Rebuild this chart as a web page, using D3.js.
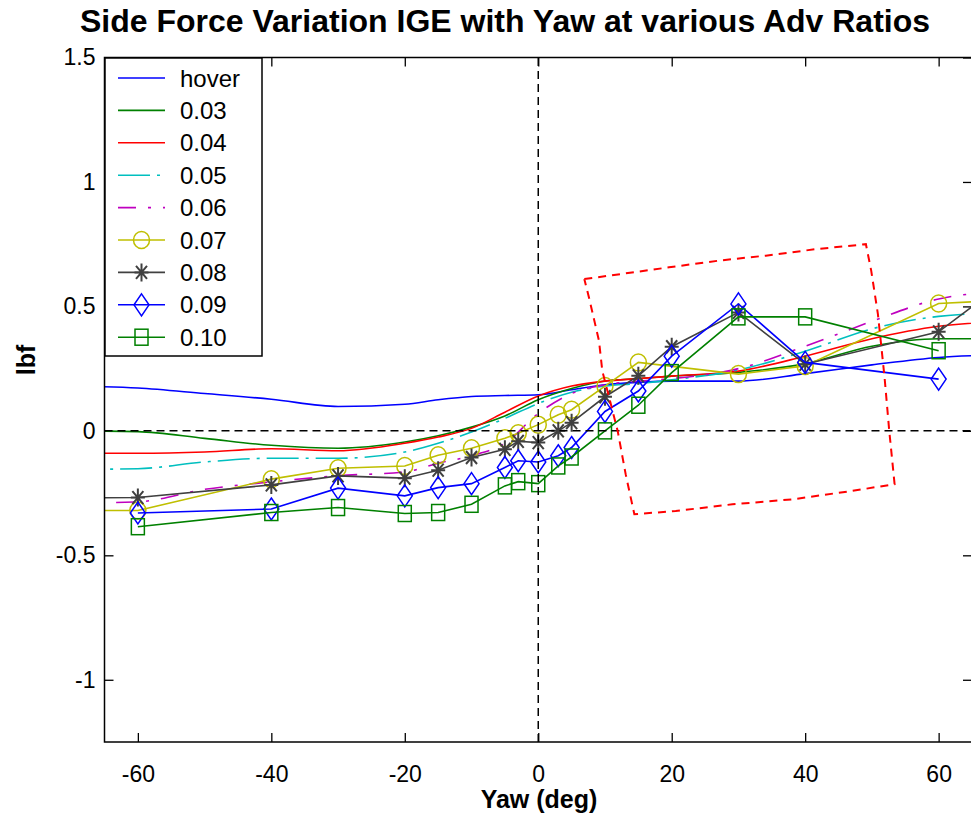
<!DOCTYPE html>
<html><head><meta charset="utf-8">
<script src="https://cdn.jsdelivr.net/npm/d3@7/dist/d3.min.js"></script>
<style>
html,body{margin:0;padding:0;background:#fff;}
svg{display:block;font-family:"Liberation Sans",Arial,Helvetica,sans-serif;}
</style></head>
<body>
<svg id="chart" width="971" height="818"></svg>
<script>
// ---------- DATA ----------
const xTicks = [-60, -40, -20, 0, 20, 40, 60];
const yTicks = [-1, -0.5, 0, 0.5, 1, 1.5];
const legendLabels = ["hover","0.03","0.04","0.05","0.06","0.07","0.08","0.09","0.10"];

// smooth (markerless) series
const yawSmooth = [-70,-60,-50,-40,-30,-20,-15,-10,-5,0,5,10,15,20,30,40,50,60,70];
const hover  = [0.18,0.172,0.15,0.127,0.098,0.107,0.125,0.138,0.142,0.145,0.165,0.185,0.195,0.2,0.2,0.23,0.265,0.295,0.305];
const adv003 = [0.0,-0.003,-0.03,-0.058,-0.07,-0.045,-0.02,0.015,0.06,0.125,0.17,0.2,0.21,0.22,0.235,0.27,0.34,0.37,0.37];
const adv004 = [-0.09,-0.09,-0.085,-0.072,-0.08,-0.05,-0.025,0.01,0.075,0.14,0.18,0.2,0.21,0.22,0.24,0.3,0.37,0.42,0.44];
const adv005 = [-0.155,-0.152,-0.125,-0.11,-0.11,-0.085,-0.05,-0.005,0.05,0.11,0.155,0.18,0.19,0.205,0.245,0.32,0.41,0.46,0.475];
const adv006 = [-0.29,-0.285,-0.235,-0.205,-0.18,-0.165,-0.13,-0.1,-0.05,0.07,0.15,0.185,0.2,0.21,0.25,0.34,0.44,0.53,0.56];

// marked series
const yaw007 = [-70,-60,-40,-30,-20,-15,-10,-5,-3,0,3,5,10,15,30,40,60,70];
const adv007 = [-0.32,-0.32,-0.194,-0.15,-0.141,-0.098,-0.07,-0.03,-0.01,0.025,0.065,0.085,0.18,0.275,0.228,0.261,0.512,0.525];
const yaw008 = [-70,-60,-40,-30,-20,-15,-10,-5,-3,0,3,5,10,15,20,30,40,60,70];
const adv008 = [-0.27,-0.268,-0.217,-0.181,-0.19,-0.158,-0.107,-0.074,-0.042,-0.047,0.0,0.033,0.137,0.221,0.338,0.476,0.268,0.398,0.6];
const yaw009 = [-60,-40,-30,-20,-15,-10,-5,-3,0,3,5,10,15,20,30,40,60];
const adv009 = [-0.33,-0.314,-0.23,-0.261,-0.228,-0.212,-0.147,-0.12,-0.125,-0.1,-0.067,0.078,0.16,0.3,0.51,0.275,0.208];
const yaw010 = [-60,-40,-30,-20,-15,-10,-5,-3,0,3,5,10,15,20,30,40,60];
const adv010 = [-0.385,-0.328,-0.308,-0.332,-0.328,-0.295,-0.221,-0.204,-0.212,-0.141,-0.105,0.0,0.103,0.234,0.458,0.458,0.322];

// red dashed annotation outline (data coords)
const boxYaw = [6.9,12.4,19.6,27.1,34.1,41.6,49.1,49.9,50.9,51.9,52.6,53.4,47.1,38.1,29.1,20.6,14.4,13.1,11.9,9.6,9.1,7.6,6.9];
const boxLbf = [0.61,0.63,0.657,0.684,0.704,0.73,0.75,0.643,0.469,0.214,0,-0.214,-0.241,-0.275,-0.295,-0.322,-0.335,-0.174,0,0.241,0.362,0.536,0.61];

// ---------- LAYOUT ----------
const L = 104.5, R = 972, T = 57.5, B = 742;
const x = d3.scaleLinear().domain([-65, 65]).range([L, R]);
const y = d3.scaleLinear().domain([-1.25, 1.5]).range([B, T]);
const svg = d3.select("#chart");

svg.append("defs").append("clipPath").attr("id","clip")
  .append("rect").attr("x",L).attr("y",T).attr("width",R-L).attr("height",B-T);

// title
svg.append("text").attr("x",505).attr("y",32).attr("text-anchor","middle")
  .attr("font-size",32).attr("font-weight","bold").text("Side Force Variation IGE with Yaw at various Adv Ratios");

// axis labels
svg.append("text").attr("x",539).attr("y",808).attr("text-anchor","middle")
  .attr("font-size",25).attr("font-weight","bold").text("Yaw (deg)");
svg.append("text").attr("transform","translate(35,360) rotate(-90)").attr("text-anchor","middle")
  .attr("font-size",25).attr("font-weight","bold").text("lbf");

// axes
const tickLen = 9;
const fmt = d => String(d);
const gx = svg.append("g").attr("transform",`translate(0,${B})`)
  .call(d3.axisBottom(x).tickValues(xTicks).tickSizeInner(-tickLen).tickSizeOuter(0).tickPadding(24).tickFormat(fmt));
const gxt = svg.append("g").attr("transform",`translate(0,${T})`)
  .call(d3.axisTop(x).tickValues(xTicks).tickSizeInner(-tickLen).tickSizeOuter(0).tickFormat(""));
const gy = svg.append("g").attr("transform",`translate(${L},0)`)
  .call(d3.axisLeft(y).tickValues(yTicks).tickSizeInner(-tickLen).tickSizeOuter(0).tickPadding(9).tickFormat(fmt));
const gyr = svg.append("g").attr("transform",`translate(${R},0)`)
  .call(d3.axisRight(y).tickValues(yTicks).tickSizeInner(-tickLen).tickSizeOuter(0).tickFormat(""));
[gx,gxt,gy,gyr].forEach(g => {
  g.select(".domain").remove();
  g.selectAll("line").attr("stroke","#000").attr("stroke-width",1.3);
  g.selectAll("text").attr("font-size",23).attr("fill","#000")
    .style("font-family","'Liberation Sans',Arial,sans-serif");
});

const plot = svg.append("g").attr("clip-path","url(#clip)");

// series definitions
const smoothLine = d3.line().x(d=>x(d[0])).y(d=>y(d[1])).curve(d3.curveMonotoneX);
const straightLine = d3.line().x(d=>x(d[0])).y(d=>y(d[1]));

const series = [
  {name:legendLabels[0], xs:yawSmooth, ys:hover,  color:"#0000ff", dash:null, marker:null, smooth:true},
  {name:legendLabels[1], xs:yawSmooth, ys:adv003, color:"#008000", dash:null, marker:null, smooth:true},
  {name:legendLabels[2], xs:yawSmooth, ys:adv004, color:"#ff0000", dash:null, marker:null, smooth:true},
  {name:legendLabels[3], xs:yawSmooth, ys:adv005, color:"#00bfbf", dash:"32,7,3,7", marker:null, smooth:true},
  {name:legendLabels[4], xs:yawSmooth, ys:adv006, color:"#bf00bf", dash:"18,12,3,12", marker:null, smooth:true},
  {name:legendLabels[5], xs:yaw007, ys:adv007, color:"#bfbf00", dash:null, marker:"circle", smooth:false},
  {name:legendLabels[6], xs:yaw008, ys:adv008, color:"#404040", dash:null, marker:"star", smooth:false},
  {name:legendLabels[7], xs:yaw009, ys:adv009, color:"#0000ff", dash:null, marker:"diamond", smooth:false},
  {name:legendLabels[8], xs:yaw010, ys:adv010, color:"#008000", dash:null, marker:"square", smooth:false}
];

function drawMarker(g, type, cx, cy, color){
  const s = g.append("g").attr("transform",`translate(${cx},${cy})`)
    .attr("fill","none").attr("stroke",color).attr("stroke-width",1.5);
  if(type==="circle"){
    s.append("ellipse").attr("rx",8).attr("ry",8.5);
  } else if(type==="star"){
    s.append("path").attr("d","M-7,0H7M0,-9V9M-5.5,-6.5L5.5,6.5M-5.5,6.5L5.5,-6.5").attr("stroke-width",2);
  } else if(type==="diamond"){
    s.append("path").attr("d","M0,-11L7.5,0L0,11L-7.5,0Z");
  } else if(type==="square"){
    s.append("rect").attr("x",-6.5).attr("y",-8).attr("width",13).attr("height",16);
  }
}

series.forEach(s => {
  const pts = s.xs.map((v,i)=>[v, s.ys[i]]);
  plot.append("path").datum(pts)
    .attr("d", s.smooth ? smoothLine : straightLine)
    .attr("fill","none").attr("stroke",s.color).attr("stroke-width",1.6)
    .attr("stroke-dasharray", s.dash);
  if(s.marker){
    pts.forEach(p => drawMarker(plot, s.marker, x(p[0]), y(p[1]), s.color));
  }
});

// zero reference lines
plot.append("line").attr("x1",x(-65)).attr("x2",x(65)).attr("y1",y(0)).attr("y2",y(0))
  .attr("stroke","#000").attr("stroke-width",1.5).attr("stroke-dasharray","8,5");
plot.append("line").attr("x1",x(0)).attr("x2",x(0)).attr("y1",y(-1.25)).attr("y2",y(1.5))
  .attr("stroke","#000").attr("stroke-width",1.5).attr("stroke-dasharray","8,5");

// red annotation box
plot.append("path").datum(boxYaw.map((v,i)=>[v, boxLbf[i]]))
  .attr("d", straightLine).attr("fill","none").attr("stroke","#ff0000")
  .attr("stroke-width",2).attr("stroke-dasharray","8,6");

// axes box
svg.append("rect").attr("x",L).attr("y",T).attr("width",R-L).attr("height",B-T)
  .attr("fill","none").attr("stroke","#000").attr("stroke-width",1.5);

// legend
const lg = svg.append("g");
lg.append("rect").attr("x",105).attr("y",58).attr("width",157).attr("height",298)
  .attr("fill","#fff").attr("stroke","#000").attr("stroke-width",1.5);
series.forEach((s,i) => {
  const cy = 78 + i*32.4;
  lg.append("line").attr("x1",118).attr("x2",165).attr("y1",cy).attr("y2",cy)
    .attr("stroke",s.color).attr("stroke-width",1.6).attr("stroke-dasharray", s.dash);
  if(s.marker) drawMarker(lg, s.marker, 141.5, cy, s.color);
  lg.append("text").attr("x",180).attr("y",cy).attr("dy","0.36em")
    .attr("font-size",24).text(s.name);
});
</script>
</body></html>
